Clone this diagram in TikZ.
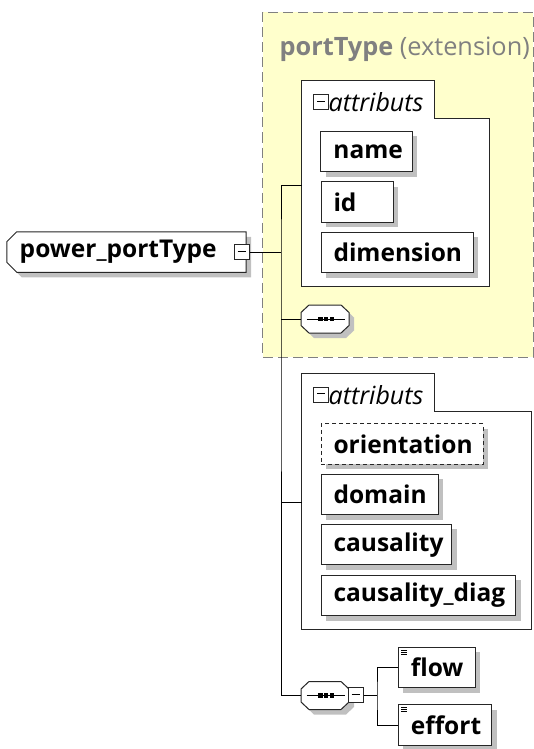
\documentclass[tikz,border=0pt]{standalone}
\usepackage{fontspec}
\setmainfont{Open Sans}
\usetikzlibrary{shapes.misc,shadows}
\definecolor{extyellow}{HTML}{FFFFCC}
\definecolor{shadowgray}{HTML}{C0C0C0}
\definecolor{titlegray}{HTML}{808080}

\begin{document}
\begin{tikzpicture}[x=1pt,y=-1pt,
    elem/.style={draw=black!85,fill=white,line width=1pt,inner xsep=12.5pt,inner ysep=0pt,
      minimum height=40.5pt,text width=#1,align=left,
      font=\fontsize{24.5}{28}\selectfont\bfseries,
      execute at begin node={\hyphenpenalty=10000\relax},
      drop shadow={shadow xshift=5pt,shadow yshift=-5pt,fill=shadowgray,opacity=1}},
    optelem/.style={elem=#1,dash pattern=on 4pt off 3pt},
    leafelem/.style={elem=#1,path picture={
      \foreach \dy in {3,5,7}
        \draw[black,line width=0.6pt] ([shift={(3pt,-\dy pt)}]path picture bounding box.north west) -- ++(6pt,0pt);}},
    rootelem/.style={elem=#1,inner xsep=8pt,chamfered rectangle,chamfered rectangle corners={north west,south west},
      chamfered rectangle xsep=5pt,chamfered rectangle ysep=5pt},
    seqbox/.style={inner sep=0pt,minimum width=48pt,minimum height=28pt},
    toggle/.style={draw=black!85,fill=white,line width=1pt,minimum size=15pt,inner sep=0pt,
      path picture={
        \draw[black,line width=0.8pt] ([shift={(3.5pt,1pt)}]path picture bounding box.west) -- ([shift={(-3.5pt,1pt)}]path picture bounding box.east);}},
    group/.style={draw=black!85,fill=white,line width=1pt},
    grouplabel/.style={anchor=west,inner sep=0pt,font=\fontsize{25}{28}\selectfont\itshape},
    link/.style={draw=black,line width=0.9pt}]
    \useasboundingbox (0,0) rectangle (534,749);

    % Extension area of portType
    \draw[titlegray,fill=extyellow,line width=1pt,dash pattern=on 10pt off 5pt] (262.5,12.5) rectangle (533,357);
    \node[anchor=west,inner sep=0pt,text=titlegray,font=\fontsize{25.3}{29}\selectfont] (exttitle) at (279.5,49) {\textbf{portType} (extension)};

    % Inherited attributes
    \draw[group] (301.5,80.7) -- (434.3,80.7) -- (434.3,118.3) -- (489.3,118.3) -- (489.3,286.7) -- (301.5,286.7) -- cycle;
    \coordinate (grpA) at (301.5,185);
    \node[toggle] (grpAtoggle) at (321.2,102.2) {};
    \node[grouplabel] (grpAlabel) at (328.5,102.5) {attributs};
    \node[elem=66.3pt] (name) at (366.6,151.5) {name};
    \node[elem=47pt] (id) at (357,202) {id};
    \node[elem=127pt] (dimension) at (397,252.5) {dimension};
    \node[seqbox] (seqA) at (325,319) {};

    % Root element
    \node[rootelem=213.3pt] (power) at (126.4,252) {power\_portType};
    \node[toggle] (pminus) at (241.5,252) {};

    % Own attributes
    \draw[group] (301.7,373.3) -- (434.3,373.3) -- (434.3,411) -- (531,411) -- (531,629.3) -- (301.7,629.3) -- cycle;
    \coordinate (grpB) at (301.7,502.3);
    \node[toggle] (grpBtoggle) at (321.2,394.8) {};
    \node[grouplabel] (grpBlabel) at (328.5,395.1) {attributs};
    \node[optelem=137.3pt] (orientation) at (402.2,444.2) {orientation};
    \node[elem=92.3pt] (domain) at (379.7,494.7) {domain};
    \node[elem=105.7pt] (causality) at (386.4,544.7) {causality};
    \node[elem=169.7pt] (causalitydiag) at (418.4,595.3) {causality\_diag};

    % Sequence of flow and effort
    \node[seqbox] (seqB) at (325,695.5) {};

    % Sequence compositors (octagon, line and three dots)
    \foreach \s in {seqA,seqB} {
      \begin{scope}[shift={(\s)}]
        \fill[shadowgray] (-11,-9) -- (21,-9) -- (29,-1.5) -- (29,11.5) -- (21,19) -- (-11,19) -- (-19,11.5) -- (-19,-1.5) -- cycle;
        \draw[black!85,fill=white,line width=1pt] (-16,-14) -- (16,-14) -- (24,-6.5) -- (24,6.5) -- (16,14) -- (-16,14) -- (-24,6.5) -- (-24,-6.5) -- cycle;
        \draw[line width=1pt] (-18.5,0) -- (20,0);
        \foreach \dx in {-4.5,1.2,6.9}
          \fill (\dx,0) +(-2.2,-2.2) rectangle +(2.2,2.2);
      \end{scope}
    }

    \node[toggle] (sminus) at (355.7,695.3) {};
    \node[leafelem=51.7pt] (flow) at (436.7,667.7) {flow};
    \node[leafelem=68.4pt] (effort) at (445,725) {effort};

    % Connectors
    \coordinate (fork) at (281,252);
    \coordinate (branch) at (377,695.3);
    \draw[link] (pminus) -- (fork);
    \draw[link] (grpA) -| (fork) |- (seqB.west);
    \draw[link] (fork |- seqA.west) -- (seqA.west);
    \draw[link] (fork |- grpB) -- (grpB);
    \draw[link] (sminus) -- (branch);
    \draw[link] (flow.west) -| (branch) |- (effort.west);
\end{tikzpicture}
\end{document}
